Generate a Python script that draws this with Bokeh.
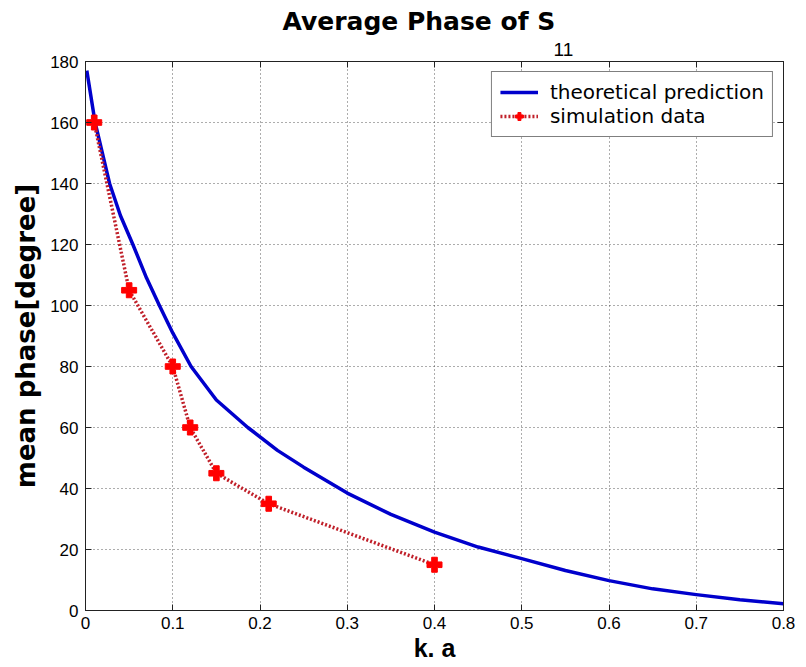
from bokeh.plotting import figure
from bokeh.models import Range1d, LinearAxis, Legend, LegendItem, FixedTicker, Title
from bokeh.embed import file_html
from bokeh.resources import INLINE

# theoretical prediction
theory_k = [0.0015, 0.011, 0.0276, 0.04, 0.0543, 0.07, 0.0847, 0.10, 0.121, 0.15, 0.186,
            0.22, 0.25, 0.30, 0.35, 0.40, 0.45, 0.50, 0.55, 0.60, 0.65, 0.70, 0.75, 0.80]
theory_phase = [177, 160, 140, 129.5, 120, 109, 100, 91, 80, 69, 60,
                52.5, 47, 38.5, 31.5, 25.7, 20.8, 17, 13.1, 9.8, 7.1, 5.2, 3.5, 2.2]

# simulation data
sim_k = [0.01, 0.05, 0.10, 0.12, 0.15, 0.21, 0.40]
sim_phase = [160, 105, 80, 60, 45, 35, 15]

x_ticks = [0, 0.1, 0.2, 0.3, 0.4, 0.5, 0.6, 0.7, 0.8]
y_ticks = [0, 20, 40, 60, 80, 100, 120, 140, 160, 180]

FONT = "Liberation Sans"
WIDE = "DejaVu Sans"

p = figure(width=806, height=667, x_range=Range1d(0, 0.8), y_range=Range1d(0, 180),
           output_backend="svg", toolbar_location=None,
           min_border_left=85, min_border_right=23, min_border_top=61, min_border_bottom=57)
p.background_fill_color = "white"
p.border_fill_color = "white"
p.outline_line_color = "#222222"
p.outline_line_width = 1

for ax in (p.xaxis[0], p.yaxis[0]):
    ax.major_tick_in = 6
    ax.major_tick_out = 0
    ax.minor_tick_in = 0
    ax.minor_tick_out = 0
    ax.axis_line_color = "#222222"
    ax.major_tick_line_color = "#222222"
    ax.major_label_text_font = FONT
    ax.major_label_text_font_size = "17px"
    ax.major_label_text_color = "black"
    ax.axis_label_text_font_style = "bold"
    ax.axis_label_text_color = "black"

p.xaxis[0].ticker = FixedTicker(ticks=x_ticks)
p.yaxis[0].ticker = FixedTicker(ticks=y_ticks)
p.xaxis[0].major_label_overrides = {0: "0"}
p.xaxis[0].axis_label = "k. a"
p.yaxis[0].axis_label = "mean phase[degree]"
p.xaxis[0].axis_label_text_font = FONT
p.xaxis[0].axis_label_text_font_size = "25px"
p.yaxis[0].axis_label_text_font = WIDE
p.yaxis[0].axis_label_text_font_size = "26px"
p.xaxis[0].major_label_standoff = 6
p.yaxis[0].major_label_standoff = 7
p.xaxis[0].axis_label_standoff = 2
p.yaxis[0].axis_label_standoff = 6

# top and right tick marks (box style), no labels
top = LinearAxis(ticker=FixedTicker(ticks=x_ticks), major_tick_in=6, major_tick_out=0,
                 minor_tick_in=0, minor_tick_out=0, major_label_standoff=0,
                 major_label_overrides={t: "" for t in x_ticks},
                 axis_line_color="#222222", major_tick_line_color="#222222")
right = LinearAxis(ticker=FixedTicker(ticks=y_ticks), major_tick_in=6, major_tick_out=0,
                   minor_tick_in=0, minor_tick_out=0,
                   major_label_overrides={t: "" for t in y_ticks},
                   axis_line_color="#222222", major_tick_line_color="#222222")
p.add_layout(right, "right")

# title with subscript: two stacked titles, the second one lower and to the right
title_main = Title(text="Average Phase of S", align="left", offset=197,
                   text_font=WIDE, text_font_style="bold", text_font_size="25px",
                   text_color="black", standoff=0)
title_sub = Title(text="11", align="left", offset=468,
                  text_font=FONT, text_font_style="normal", text_font_size="19px",
                  text_color="black", standoff=11)
p.title = None
p.above = [top, title_sub, title_main]

p.xgrid.ticker = FixedTicker(ticks=x_ticks)
p.ygrid.ticker = FixedTicker(ticks=y_ticks)
for g in (p.xgrid[0], p.ygrid[0]):
    g.grid_line_color = "#333333"
    g.grid_line_dash = "1 3"
    g.grid_line_width = 1
    g.grid_line_alpha = 0.8

r_theory = p.line(theory_k, theory_phase, line_color="#0000cc", line_width=3.5,
                  line_join="round")
r_sim_line = p.line(sim_k, sim_phase, line_color="#c0202a", line_width=3.5, line_dash="2 2")
r_sim_pts = p.scatter(sim_k, sim_phase, marker="plus", size=15,
                      fill_color="#ff0000", line_color="#ff0000")

legend = Legend(items=[LegendItem(label="theoretical prediction", renderers=[r_theory]),
                       LegendItem(label="simulation data", renderers=[r_sim_line, r_sim_pts])],
                location="top_right")
legend.label_text_font = WIDE
legend.label_text_font_size = "20px"
legend.label_text_color = "black"
legend.glyph_width = 38
legend.glyph_height = 20
legend.label_height = 20
legend.spacing = 0
legend.padding = 8
legend.margin = 10
legend.label_standoff = 12
legend.border_line_color = "black"
legend.border_line_width = 1
legend.background_fill_color = "white"
legend.background_fill_alpha = 1
p.add_layout(legend)

open("out.html", "w").write(file_html(p, INLINE))
